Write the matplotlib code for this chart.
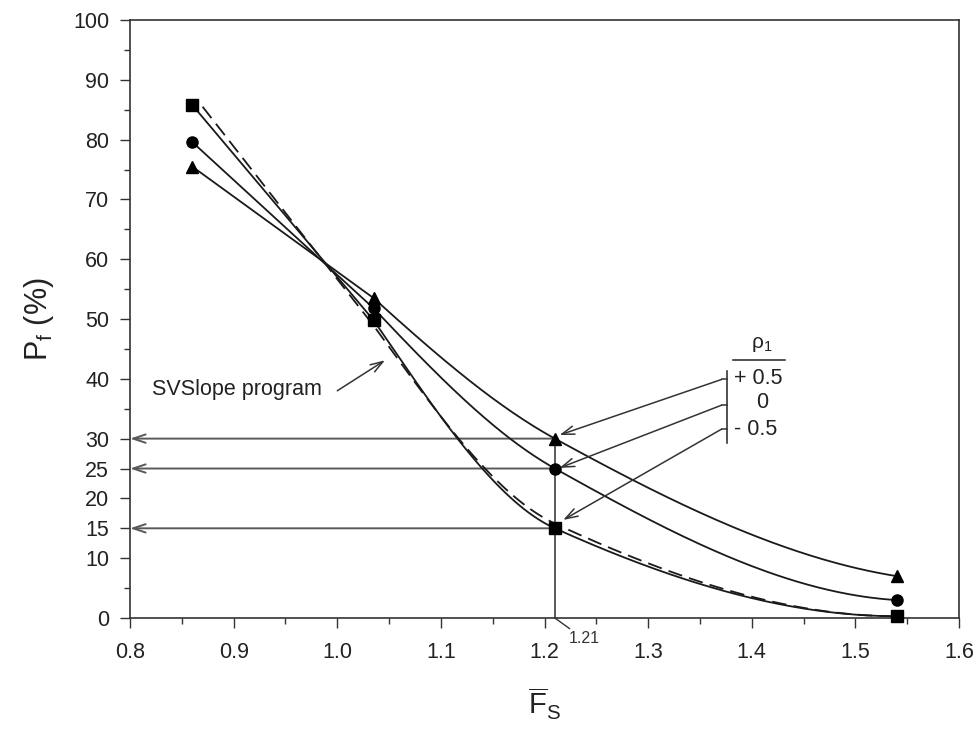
import numpy as np
import matplotlib
matplotlib.use("Agg")
import matplotlib.pyplot as plt
from matplotlib.ticker import MultipleLocator, FixedLocator

plt.rcParams['font.family'] = ['Liberation Sans', 'DejaVu Sans']
plt.rcParams['mathtext.fontset'] = 'custom'
plt.rcParams['mathtext.rm'] = 'Liberation Sans'
plt.rcParams['mathtext.it'] = 'Liberation Sans'
plt.rcParams['mathtext.bf'] = 'Liberation Sans'

# Mean factor of safety and probability of failure (%) for three correlation values
fs = [0.86, 1.035, 1.21, 1.54]
pf_rho_pos = [75.5, 53.5, 30, 7.0]     # rho1 = +0.5
pf_rho_zero = [79.6, 51.8, 25, 3.0]    # rho1 = 0
pf_rho_neg = [85.8, 49.8, 15, 0.3]     # rho1 = -0.5
# SVSlope program result
svslope_fs = [0.87, 1.035, 1.21, 1.54]
svslope_pf = [85.5, 48.9, 15.8, 0.3]

fs_design = 1.21
y_ticks = [0, 10, 15, 20, 25, 30, 40, 50, 60, 70, 80, 90, 100]
x_ticks = [0.8, 0.9, 1.0, 1.1, 1.2, 1.3, 1.4, 1.5, 1.6]
rho_labels = ['+ 0.5', '0', '- 0.5']


def pchip(x, y, n=200):
    """Monotone cubic (Fritsch-Carlson) curve through the given points."""
    x = np.asarray(x, float)
    y = np.asarray(y, float)
    h = np.diff(x)
    delta = np.diff(y) / h
    d = np.zeros_like(y)
    for k in range(1, len(x) - 1):
        if delta[k - 1] * delta[k] > 0:
            w1 = 2 * h[k] + h[k - 1]
            w2 = h[k] + 2 * h[k - 1]
            d[k] = (w1 + w2) / (w1 / delta[k - 1] + w2 / delta[k])

    def end(h0, h1, m0, m1):
        dd = ((2 * h0 + h1) * m0 - h0 * m1) / (h0 + h1)
        if np.sign(dd) != np.sign(m0):
            dd = 0.0
        elif np.sign(m0) != np.sign(m1) and abs(dd) > abs(3 * m0):
            dd = 3 * m0
        return dd

    d[0] = end(h[0], h[1], delta[0], delta[1])
    d[-1] = end(h[-1], h[-2], delta[-1], delta[-2])
    xs = np.linspace(x[0], x[-1], n)
    idx = np.clip(np.searchsorted(x, xs) - 1, 0, len(x) - 2)
    t = (xs - x[idx]) / h[idx]
    h00 = 2 * t**3 - 3 * t**2 + 1
    h10 = t**3 - 2 * t**2 + t
    h01 = -2 * t**3 + 3 * t**2
    h11 = t**3 - t**2
    ys = h00 * y[idx] + h10 * h[idx] * d[idx] + h01 * y[idx + 1] + h11 * h[idx] * d[idx + 1]
    return xs, ys


def curve(x, y):
    """Straight first leg, smooth monotone curve through the remaining points."""
    xs, ys = pchip(x[1:], y[1:])
    return np.concatenate([[x[0]], xs]), np.concatenate([[y[0]], ys])


fig = plt.figure(figsize=(9.8, 7.3), dpi=100)
ax = fig.add_axes([0.1327, 0.1534, 0.8459, 0.8192])

grey = '#5a5a5a'
ink = '#1a1a1a'
lw = 1.3

# guide lines at the design factor of safety
i_d = fs.index(fs_design)
for series in (pf_rho_pos, pf_rho_zero, pf_rho_neg):
    yv = series[i_d]
    ax.annotate('', xy=(0.8, yv), xytext=(fs_design, yv),
                arrowprops=dict(arrowstyle='->,head_length=0.9,head_width=0.3',
                                color=grey, lw=1.4, shrinkA=0, shrinkB=0),
                zorder=2)
ax.plot([fs_design, fs_design], [0, pf_rho_pos[i_d]], color=grey, lw=1.4, zorder=2)

# curves
for series, mk in ((pf_rho_pos, '^'), (pf_rho_zero, 'o'), (pf_rho_neg, 's')):
    xs, ys = curve(fs, series)
    ax.plot(xs, ys, color=ink, lw=lw, zorder=3)
    ax.plot(fs, series, linestyle='none', marker=mk, color='black',
            markersize=8, zorder=4, clip_on=False)

xs, ys = curve(svslope_fs, svslope_pf)
ax.plot(xs, ys, color=ink, lw=lw, dashes=(8, 4), zorder=3)

# axes
ax.set_xlim(0.8, 1.6)
ax.set_ylim(0, 100)
ax.xaxis.set_major_locator(FixedLocator(x_ticks))
ax.xaxis.set_minor_locator(MultipleLocator(0.05))
ax.yaxis.set_major_locator(FixedLocator(y_ticks))
ax.yaxis.set_minor_locator(MultipleLocator(5))
ax.set_xticklabels([f'{v:.1f}' for v in x_ticks])
ax.set_yticklabels([str(v) for v in y_ticks])
ax.tick_params(axis='both', which='major', direction='out', length=7, width=1,
               labelsize=15.5, color='#333333', labelcolor='#222222')
ax.tick_params(axis='x', which='major', pad=10)
ax.tick_params(axis='y', which='major', pad=8)
ax.tick_params(axis='both', which='minor', direction='out', length=4, width=1,
               color='#333333')
ax.tick_params(top=False, right=False, which='both')
for s in ax.spines.values():
    s.set_linewidth(1.2)
    s.set_color('#333333')

ax.set_ylabel('P$_\\mathregular{f}$ (%)', fontsize=22, labelpad=12, color='#222222')
ax.set_xlabel('$\\overline{\\mathregular{F}}_\\mathregular{S}$', fontsize=21,
              labelpad=17, color='#222222')

# 1.21 marker below the axis
ax.annotate('1.21', xy=(fs_design, 0), xytext=(1.223, -3.5),
            textcoords='data', fontsize=11.5, color='#333333', ha='left', va='center',
            annotation_clip=False,
            arrowprops=dict(arrowstyle='-', color='#333333', lw=1,
                            shrinkA=0, shrinkB=0))

# SVSlope label
ax.text(0.821, 38.2, 'SVSlope program', fontsize=15.5, color='#222222',
        ha='left', va='center')
ax.annotate('', xy=(1.046, 43.1), xytext=(1.0, 38.0),
            arrowprops=dict(arrowstyle='->,head_length=0.9,head_width=0.3',
                            color='#333333', lw=1.1, shrinkA=0, shrinkB=0))

# rho1 key
bar_x = 1.376
ax.text(1.41, 45.8, 'ρ$_\\mathregular{1}$', fontsize=15, ha='center', va='center',
        color='#222222')
ax.plot([1.382, 1.432], [43.1, 43.1], color='#222222', lw=1.1)
ax.plot([bar_x, bar_x], [29.3, 41.3], color='#222222', lw=1.1)
label_y = [40.0, 36.0, 31.5]
label_x = [1.383, 1.41, 1.383]
label_ha = ['left', 'center', 'left']
stub_y = [39.9, 35.6, 31.6]
targets = [(pf_rho_pos, 0.0045, 0.6), (pf_rho_zero, 0.0045, 0.1), (pf_rho_neg, 0.008, 1.4)]
for lab, lx, ly, ha, sy, (series, dx, dy) in zip(rho_labels, label_x, label_y,
                                                  label_ha, stub_y, targets):
    ax.text(lx, ly, lab, fontsize=15.5, ha=ha, va='center', color='#222222')
    ax.plot([bar_x - 0.005, bar_x], [sy, sy], color='#333333', lw=1.1)
    ax.annotate('', xy=(fs_design + dx, series[i_d] + dy), xytext=(bar_x - 0.005, sy),
                arrowprops=dict(arrowstyle='->,head_length=0.9,head_width=0.3',
                                color='#333333', lw=1.1, shrinkA=0, shrinkB=0))

fig.savefig('out.png', dpi=100)
